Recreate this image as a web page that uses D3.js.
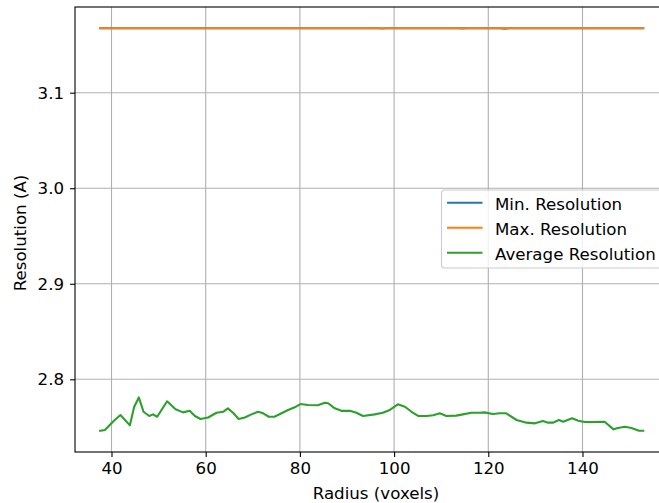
<!DOCTYPE html>
<html>
<head>
<meta charset="utf-8">
<script src="https://cdn.jsdelivr.net/npm/d3@7"></script>
<style>
  body { margin: 0; background: #fff; }
  svg { font-family: "DejaVu Sans", sans-serif; }
</style>
</head>
<body>
<svg width="659" height="503"></svg>
<script>
// Average resolution curve
const avgRadius = [37.6, 38.6, 40.3, 41.9, 43.9, 44.8, 45.8, 46.8, 48.0, 48.8, 49.7, 51.8, 53.6, 55.2, 56.6,
  57.7, 58.9, 60.5, 62.3, 63.7, 64.7, 65.8, 67.0, 68.3, 69.7, 71.1, 72.2, 73.4, 74.6, 76.1, 77.5, 78.9,
  80.1, 81.7, 83.8, 85.3, 86.0, 87.4, 88.8, 90.6, 92.0, 93.4, 95.9, 97.6, 99.1, 100.8, 102.3, 103.7,
  105.1, 106.9, 108.3, 109.7, 111.1, 113.2, 114.6, 116.4, 118.2, 119.2, 121.0, 122.4, 123.8, 126.0,
  128.1, 129.9, 131.6, 132.7, 133.7, 135.0, 135.9, 137.8, 139.1, 140.5, 142.2, 144.7, 146.6, 147.5,
  149.0, 150.4, 152.0, 152.9];
const avgRes = [2.746, 2.747, 2.7556, 2.7626, 2.7518, 2.771, 2.781, 2.766, 2.7616, 2.7633, 2.7608, 2.777,
  2.7686, 2.7654, 2.767, 2.7616, 2.7584, 2.760, 2.765, 2.766, 2.7696, 2.765, 2.7584, 2.760, 2.7633,
  2.766, 2.7644, 2.7608, 2.7608, 2.7644, 2.7679, 2.7707, 2.7741, 2.7731, 2.7728, 2.7755, 2.7749,
  2.7696, 2.767, 2.767, 2.765, 2.7616, 2.7633, 2.765, 2.7679, 2.7738, 2.7713, 2.766, 2.7616, 2.7616,
  2.7623, 2.7644, 2.7616, 2.762, 2.7633, 2.765, 2.765, 2.7654, 2.7637, 2.7644, 2.7644, 2.7574,
  2.7546, 2.7539, 2.7563, 2.7546, 2.7546, 2.7574, 2.7556, 2.7592, 2.7567, 2.7553, 2.7553, 2.7556,
  2.7476, 2.749, 2.7504, 2.749, 2.7462, 2.7462];

// Min / max are almost flat
const minRadius = [37.6, 96.5, 97.5, 98.5, 113.5, 114.5, 115.5, 122.5, 123.5, 124.5, 152.9];
const minRes = [3.1674, 3.1674, 3.1672, 3.1674, 3.1674, 3.1673, 3.1674, 3.1674, 3.1671, 3.1674, 3.1674];
const maxRadius = [37.6, 122.5, 123.5, 124.5, 152.9];
const maxRes = [3.1674, 3.1674, 3.1678, 3.1674, 3.1674];

const xTicks = [40, 60, 80, 100, 120, 140];
const yTicks = [2.8, 2.9, 3.0, 3.1];

const seriesNames = ["Min. Resolution", "Max. Resolution", "Average Resolution"];
const seriesColors = ["#1f77b4", "#ff7f0e", "#2ca02c"];

const svg = d3.select("svg");
const plot = {left: 75, top: 7, bottom: 452, right: 670.8};
const fs = 16.67;

const x = d3.scaleLinear().domain([32.25, 158.75]).range([plot.left, plot.right]);
const y = d3.scaleLinear().domain([2.7239, 3.1897]).range([plot.bottom, plot.top]);

// grid
svg.append("g").selectAll("line").data(xTicks).join("line")
  .attr("x1", d => x(d)).attr("x2", d => x(d))
  .attr("y1", plot.top).attr("y2", plot.bottom)
  .attr("stroke", "#b0b0b0").attr("stroke-width", 1.1);
svg.append("g").selectAll("line").data(yTicks).join("line")
  .attr("x1", plot.left).attr("x2", plot.right)
  .attr("y1", d => y(d)).attr("y2", d => y(d))
  .attr("stroke", "#b0b0b0").attr("stroke-width", 1.1);

// lines
const line = d3.line().x(d => x(d[0])).y(d => y(d[1]));
const series = [
  d3.zip(minRadius, minRes),
  d3.zip(maxRadius, maxRes),
  d3.zip(avgRadius, avgRes)
];
svg.append("g").selectAll("path").data(series).join("path")
  .attr("d", line)
  .attr("fill", "none")
  .attr("stroke", (d, i) => seriesColors[i])
  .attr("stroke-width", 2.1)
  .attr("stroke-linejoin", "round")
  .attr("stroke-linecap", "square");

// axes
const xAxis = svg.append("g")
  .attr("transform", `translate(0,${plot.bottom})`)
  .call(d3.axisBottom(x).tickValues(xTicks).tickSize(4.9).tickPadding(4.9));
const yAxis = svg.append("g")
  .attr("transform", `translate(${plot.left},0)`)
  .call(d3.axisLeft(y).tickValues(yTicks).tickFormat(d3.format(".1f")).tickSize(4.9).tickPadding(6));
[xAxis, yAxis].forEach(a => {
  a.select(".domain").remove();
  a.selectAll("line").attr("stroke", "#000").attr("stroke-width", 1.1);
  a.selectAll("text").attr("font-size", fs).attr("fill", "#000")
    .attr("font-family", "DejaVu Sans");
});

// spines
svg.append("rect")
  .attr("x", plot.left).attr("y", plot.top)
  .attr("width", plot.right - plot.left).attr("height", plot.bottom - plot.top)
  .attr("fill", "none").attr("stroke", "#000").attr("stroke-width", 1.1);

// axis labels
svg.append("text")
  .attr("x", 376).attr("y", 498.5)
  .attr("text-anchor", "middle").attr("font-size", fs)
  .text("Radius (voxels)");
svg.append("text")
  .attr("transform", "translate(26,233) rotate(-90)")
  .attr("text-anchor", "middle").attr("font-size", fs)
  .text("Resolution (A)");

// legend
const lg = svg.append("g").attr("transform", "translate(441.5,190)");
lg.append("rect")
  .attr("width", 225).attr("height", 78).attr("rx", 3)
  .attr("fill", "#fff").attr("fill-opacity", 0.8)
  .attr("stroke", "#cccccc").attr("stroke-width", 1.1);
const item = lg.selectAll(".item").data(seriesNames).join("g")
  .attr("class", "item")
  .attr("transform", (d, i) => `translate(0,${12.7 + i * 25})`);
item.append("line")
  .attr("x1", 5.5).attr("x2", 41)
  .attr("stroke", (d, i) => seriesColors[i]).attr("stroke-width", 2.1);
item.append("text")
  .attr("x", 53.5).attr("y", 7)
  .attr("font-size", fs).attr("fill", "#000")
  .text(d => d);
</script>
</body>
</html>
